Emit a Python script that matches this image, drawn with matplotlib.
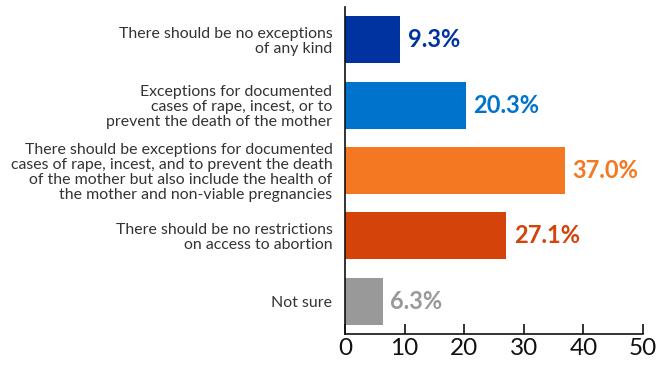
import matplotlib
matplotlib.use("Agg")
import matplotlib.pyplot as plt

categories = [
    "There should be no exceptions\nof any kind",
    "Exceptions for documented\ncases of rape, incest, or to\nprevent the death of the mother",
    "There should be exceptions for documented\ncases of rape, incest, and to prevent the death\nof the mother but also include the health of\nthe mother and non-viable pregnancies",
    "There should be no restrictions\non access to abortion",
    "Not sure",
]
values = [9.3, 20.3, 37.0, 27.1, 6.3]
value_labels = ["9.3%", "20.3%", "37.0%", "27.1%", "6.3%"]
colors = ["#0033A0", "#0074CC", "#F47721", "#D3430A", "#999999"]
xticks = [0, 10, 20, 30, 40, 50]

plt.rcParams["font.family"] = ["Lato", "DejaVu Sans"]

fig = plt.figure(figsize=(6.6, 3.69), dpi=100)
ax = fig.add_axes([0.5227, 0.095, 0.4515, 0.886])

pos = list(range(len(values)))
ax.barh(pos, values, height=0.72, color=colors, edgecolor="none")
ax.set_ylim(4.5, -0.5)
ax.set_xlim(0, 50)

for p, v, lab, c in zip(pos, values, value_labels, colors):
    ax.text(v + 1.2, p, lab, color=c, fontsize=17, fontweight="bold",
            va="center", ha="left")

ax.set_yticks(pos)
ax.set_yticklabels(categories, fontsize=11.4, color="#333333", linespacing=1.1)
for t in ax.get_yticklabels():
    t.set_multialignment("right")
ax.tick_params(axis="y", length=0, pad=9)

ax.set_xticks(xticks)
ax.set_xticklabels([str(x) for x in xticks], fontsize=17.5, color="#111111")
ax.tick_params(axis="x", direction="in", length=7, width=1.2, color="#111111", pad=3)

for s in ["top", "right"]:
    ax.spines[s].set_visible(False)
for s in ["left", "bottom"]:
    ax.spines[s].set_linewidth(1.2)
    ax.spines[s].set_color("#111111")

fig.savefig("out.png", dpi=100)
